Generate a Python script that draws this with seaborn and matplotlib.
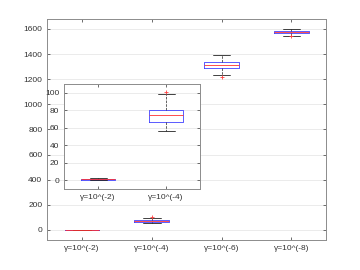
import numpy as np
import pandas as pd
import matplotlib
matplotlib.use('Agg')
import matplotlib.pyplot as plt
import seaborn as sns

# Etiquetas de los grupos
labels = ['γ=10^(-2)', 'γ=10^(-4)', 'γ=10^(-6)', 'γ=10^(-8)']

# Muestras (cuartiles, bigotes y atípicos aproximados)
g_2 = [0.2, 0.3, 0.4, 0.5, 0.6, 0.7, 0.8, 0.9, 1.0, 1.1, 1.2, 1.3, 1.5, 1.7, 2.0]
g_4 = [56, 60, 64, 66, 68, 70, 72, 74, 75, 77, 79, 81, 88, 98, 101]
g_6 = [1218, 1237, 1262, 1288, 1298, 1305, 1311, 1317, 1322, 1328, 1335, 1341, 1356, 1373, 1392]
g_8 = [1543, 1545, 1557, 1565, 1568, 1570, 1572, 1573, 1575, 1577, 1580, 1582, 1586, 1591, 1597]

main_yticks = [0, 200, 400, 600, 800, 1000, 1200, 1400, 1600]
inset_yticks = [0, 20, 40, 60, 80, 100]

groups = [g_2, g_4, g_6, g_8]
df = pd.DataFrame({
    'gamma': np.repeat(labels, [len(g) for g in groups]),
    'valor': np.concatenate(groups),
})
df_inset = df[df['gamma'].isin(labels[:2])]

sns.set_style('ticks')
plt.rcParams['font.family'] = ['Liberation Sans', 'DejaVu Sans']

box_kw = dict(
    fill=False, color='#4040ff', width=0.5, linewidth=0.6,
    whiskerprops=dict(color='#222222', linestyle='--', linewidth=0.5),
    capprops=dict(color='#222222', linewidth=0.6),
    medianprops=dict(color='#ff3030', linewidth=0.6),
    flierprops=dict(marker='+', markeredgecolor='#ff4040', markersize=3, markeredgewidth=0.6),
)


def style_axes(ax, yticks, ylim, xlim):
    ax.set_ylim(*ylim)
    ax.set_xlim(*xlim)
    ax.set_yticks(yticks)
    ax.set_xlabel('')
    ax.set_ylabel('')
    ax.yaxis.grid(True, color='#e8e8e8', linewidth=0.6)
    ax.set_axisbelow(True)
    for s in ax.spines.values():
        s.set_visible(True)
        s.set_color('#8c8c8c')
        s.set_linewidth(0.7)
    ax.tick_params(axis='both', direction='in', length=2, width=0.6, color='#555555',
                   labelsize=6, labelcolor='#333333', top=True, right=True, pad=3.5)


fig = plt.figure(figsize=(3.6, 2.7), dpi=100)
fig.patch.set_facecolor('white')

ax = fig.add_axes([0.131, 0.111, 0.775, 0.819])
sns.boxplot(data=df, x='gamma', y='valor', order=labels, ax=ax, **box_kw)
style_axes(ax, main_yticks, (-80, 1680), (-0.5, 3.5))

axins = fig.add_axes([0.178, 0.30, 0.378, 0.389])
sns.boxplot(data=df_inset, x='gamma', y='valor', order=labels[:2], ax=axins, **box_kw)
style_axes(axins, inset_yticks, (-10, 110), (-0.5, 1.5))
axins.set_facecolor('white')

plt.savefig('out.png', dpi=100)
